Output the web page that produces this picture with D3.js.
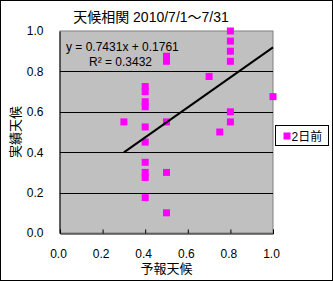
<!DOCTYPE html>
<html>
<head>
<meta charset="utf-8">
<script src="https://cdn.jsdelivr.net/npm/d3@7"></script>
<style>
  body { margin: 0; background: #fff; }
  text { font-family: "Liberation Sans", "Noto Sans CJK JP", sans-serif; fill: #000; }
</style>
</head>
<body>
<script>
// 予報天候 (x) と 実績天候 (y)
var forecast = [0.3, 0.4, 0.4, 0.4, 0.4, 0.4, 0.4, 0.4, 0.4, 0.4, 0.4,
                0.5, 0.5, 0.5, 0.5, 0.5, 0.7, 0.75,
                0.8, 0.8, 0.8, 0.8, 0.8, 0.8, 1.0];
var actual = [0.55, 0.725, 0.70, 0.65, 0.625, 0.525, 0.45, 0.35, 0.30, 0.275, 0.175,
              0.875, 0.85, 0.55, 0.30, 0.10, 0.775, 0.50,
              1.0, 0.95, 0.90, 0.85, 0.60, 0.55, 0.675];
var tickValues = [0, 0.2, 0.4, 0.6, 0.8, 1.0];
var slope = 0.7431, intercept = 0.1761, rSquared = 0.3432;
var seriesName = "2日前";

var width = 333, height = 281;
var margin = { top: 31, right: 60, bottom: 48, left: 60 };

var svg = d3.select("body").append("svg")
    .attr("width", width)
    .attr("height", height);

// 外枠
svg.append("rect")
    .attr("x", 0.5).attr("y", 0.5)
    .attr("width", width - 1).attr("height", height - 1)
    .attr("fill", "#fff").attr("stroke", "#000");

var x = d3.scaleLinear().domain([0, 1]).range([margin.left, width - margin.right]);
var y = d3.scaleLinear().domain([0, 1]).range([height - margin.bottom, margin.top]);

// プロットエリア
svg.append("rect")
    .attr("x", x(0)).attr("y", y(1))
    .attr("width", x(1) - x(0)).attr("height", y(0) - y(1))
    .attr("fill", "#c0c0c0").attr("stroke", "#808080");

// 目盛線
svg.selectAll("line.grid")
    .data(tickValues.filter(d => d > 0 && d < 1))
    .enter().append("line")
    .attr("class", "grid")
    .attr("x1", x(0)).attr("x2", x(1))
    .attr("y1", d => Math.round(y(d)) + 0.5).attr("y2", d => Math.round(y(d)) + 0.5)
    .attr("stroke", "#000");

// 軸
var xAxis = svg.append("g")
    .attr("transform", "translate(0," + (Math.round(y(0)) + 0.5) + ")")
    .call(d3.axisBottom(x).tickValues(tickValues).tickSize(-4).tickPadding(16).tickFormat(d3.format(".1f")));
xAxis.select(".domain").attr("stroke", "#000");
xAxis.selectAll("text").attr("dx", -2).style("font-size", "12px");

var yAxis = svg.append("g")
    .attr("transform", "translate(" + (Math.round(x(0)) - 0.5) + ",0)")
    .call(d3.axisLeft(y).tickValues(tickValues).tickSize(0).tickPadding(16).tickFormat(d3.format(".1f")));
yAxis.select(".domain").attr("stroke", "#000");
yAxis.selectAll("text").style("font-size", "12px");

// 散布図
var s = 7;
svg.selectAll("rect.pt")
    .data(forecast.map((f, i) => ({ f: f, a: actual[i] })))
    .enter().append("rect")
    .attr("class", "pt")
    .attr("x", d => x(d.f) - s / 2)
    .attr("y", d => y(d.a) - s / 2)
    .attr("width", s).attr("height", s)
    .attr("fill", "#ff00ff");

// 近似直線
var xMin = d3.min(forecast), xMax = d3.max(forecast);
svg.append("line")
    .attr("x1", x(xMin)).attr("y1", y(slope * xMin + intercept))
    .attr("x2", x(xMax)).attr("y2", y(slope * xMax + intercept))
    .attr("stroke", "#000").attr("stroke-width", 2);

svg.append("text")
    .attr("x", 66).attr("y", 51)
    .style("font-size", "12px")
    .text("y = " + slope + "x + " + intercept);
svg.append("text")
    .attr("x", 89).attr("y", 66)
    .style("font-size", "12px")
    .text("R² = " + rSquared);

// タイトル
svg.append("text")
    .attr("x", 151).attr("y", 22)
    .attr("text-anchor", "middle")
    .style("font-size", "14px")
    .text("天候相関 2010/7/1～7/31");

// 軸ラベル
svg.append("text")
    .attr("x", (x(0) + x(1)) / 2).attr("y", 273)
    .attr("text-anchor", "middle")
    .style("font-size", "13px")
    .text("予報天候");

svg.append("text")
    .attr("transform", "translate(20," + ((y(0) + y(1)) / 2) + ") rotate(-90)")
    .attr("text-anchor", "middle")
    .style("font-size", "13px")
    .text("実績天候");

// 凡例
var legend = svg.append("g").attr("transform", "translate(275.5,125.5)");
legend.append("rect")
    .attr("width", 53).attr("height", 20)
    .attr("fill", "#fff").attr("stroke", "#000");
legend.append("rect")
    .attr("x", 8).attr("y", 7).attr("width", 7).attr("height", 7)
    .attr("fill", "#ff00ff");
legend.append("text")
    .attr("x", 16).attr("y", 15)
    .style("font-size", "12px")
    .text(seriesName);
</script>
</body>
</html>
